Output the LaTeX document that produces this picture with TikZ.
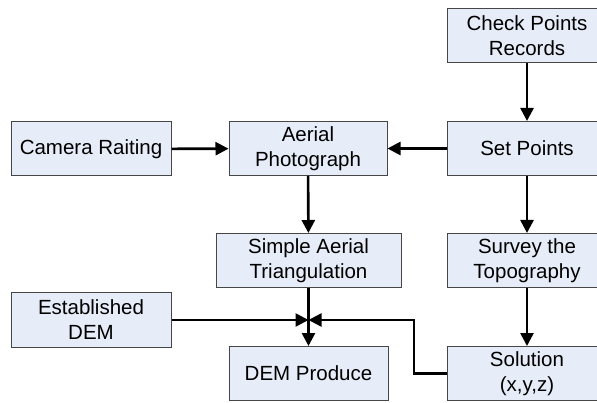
\documentclass[tikz,border=0pt]{standalone}
\usepackage{fontspec}
\setmainfont{Liberation Sans}
\usetikzlibrary{arrows.meta}
\definecolor{boxfill}{RGB}{231,237,248}
\definecolor{boxline}{RGB}{70,70,70}
\begin{document}
\begin{tikzpicture}[x=1pt,y=-1pt,
  box/.style={draw=boxline, line width=1pt, fill=boxfill, minimum width=#1, minimum height=54pt,
    inner sep=0pt, align=center, font=\fontsize{20.5}{25}\selectfont},
  box/.default=160pt,
  conn/.style={line width=2.6pt, -{Triangle[length=13pt,width=13pt]}},
  plain/.style={line width=2.6pt}]
\useasboundingbox (0,0) rectangle (597,403);
\node[box] (cpr) at (527,35.5) {Check Points\\Records};
\node[box] (cam) at (91,149) {Camera Raiting};
\node[box=158pt] (aer) at (308,148.5) {Aerial\\Photograph};
\node[box] (sp) at (527,148.5) {Set Points};
\node[box=185pt] (sat) at (308.5,260.5) {Simple Aerial\\Triangulation};
\node[box] (sur) at (527,260.5) {Survey the\\Topography};
\node[box] (est) at (91,320) {Established\\DEM};
\node[box=159pt] (dem) at (308.5,373.5) {DEM Produce};
\node[box] (sol) at (527,373.5) {Solution\\(x,y,z)};
\coordinate (J) at (308.5,320);
\coordinate (B) at (414,373.5);
\coordinate (T) at (414,320);
\draw[conn] (cpr) -- (sp);
\draw[conn] (cam) -- (aer);
\draw[conn] (sp) -- (aer);
\draw[conn] (aer) -- (sat);
\draw[conn] (sp) -- (sur);
\draw[conn] (sur) -- (sol);
\draw[conn] (sat) -- (dem);
\draw[conn] (est.east) -- (J);
\draw[conn] (sol.west) -- (B) -- (T) -- (J);
\end{tikzpicture}
\end{document}
